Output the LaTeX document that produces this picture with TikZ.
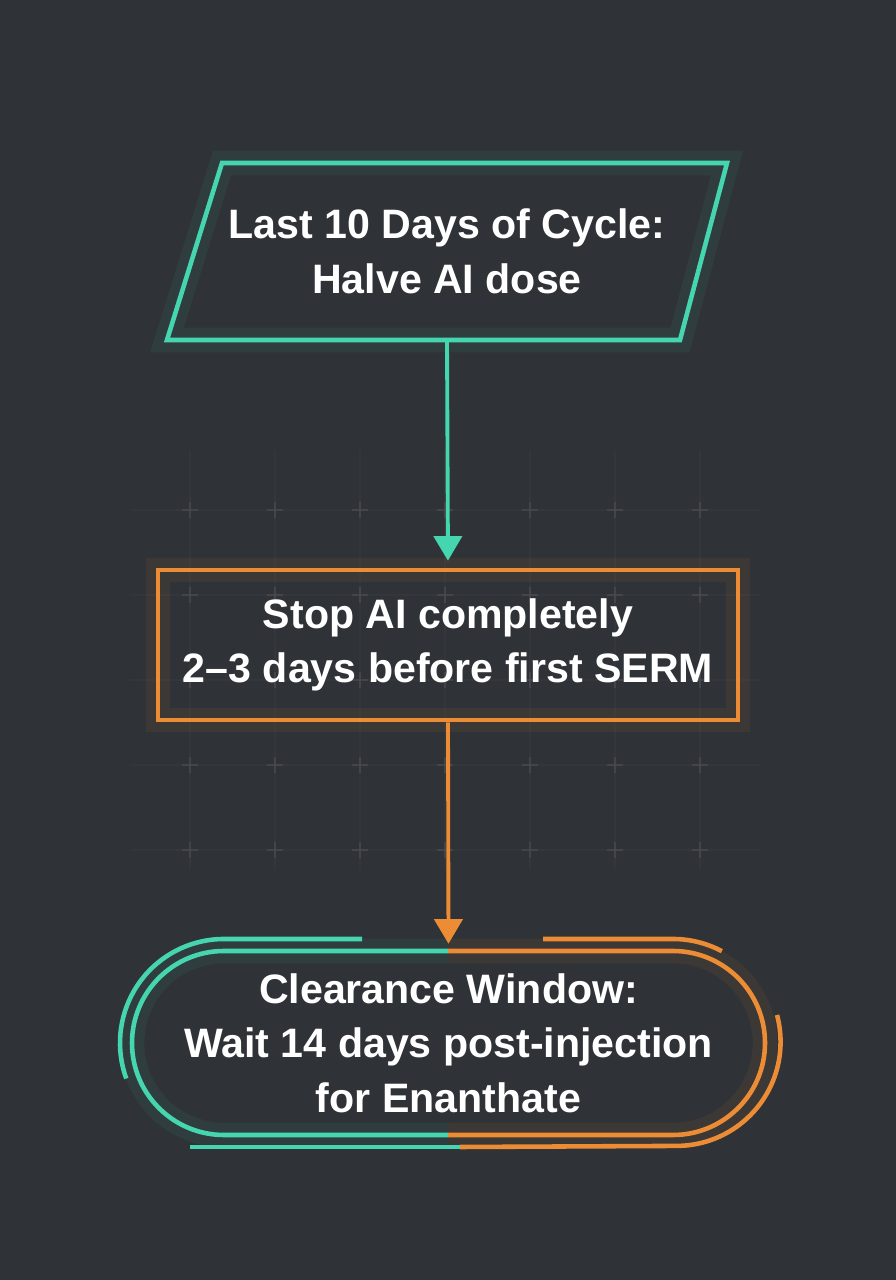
\documentclass[tikz,border=0pt]{standalone}
\usepackage{fontspec}
\setmainfont{Liberation Sans}
\usetikzlibrary{arrows.meta}
\definecolor{bgdark}{HTML}{2F3237}
\definecolor{tealc}{HTML}{45D6B0}
\definecolor{orangec}{HTML}{EC8C34}
\tikzset{
  txt/.style={text=white, font=\bfseries\fontsize{11.7}{15.5}\selectfont, align=center},
  box/.style={minimum width=#1, minimum height=1.5cm, inner sep=0pt},
  glow/.style={line width=7pt, opacity=0.07},
  edge/.style={line width=1.3pt},
  link/.style={line width=1.1pt, -{Triangle[length=7pt,width=8pt]}, shorten >=2pt},
}
\begin{document}
\begin{tikzpicture}
% background
\fill[bgdark] (0,0) rectangle (8.96,12.8);
\useasboundingbox (0,0) rectangle (8.96,12.8);

% faint grid
\foreach \x in {1.9,2.75,3.6,4.45,5.3,6.15,7.0}
  \draw[white, opacity=0.025] (\x,4.1) -- (\x,8.3);
\foreach \y in {4.3,5.15,6.0,6.85,7.7}
  \draw[white, opacity=0.025] (1.3,\y) -- (7.6,\y);
\foreach \x in {1.9,2.75,3.6,4.45,5.3,6.15,7.0}
  \foreach \y in {4.3,5.15,6.0,6.85,7.7}
    \draw[white, opacity=0.08] (\x-0.08,\y) -- (\x+0.08,\y) (\x,\y-0.08) -- (\x,\y+0.08);

% step 1: parallelogram
\draw[tealc, glow] (2.22,11.17) -- (7.27,11.17) -- (6.80,9.40) -- (1.67,9.40) -- cycle;
\draw[tealc, edge] (2.22,11.17) -- (7.27,11.17) -- (6.80,9.40) -- (1.67,9.40) -- cycle;
\node[txt, box=5cm, minimum height=1.77cm] (taper) at (4.47,10.285) {Last 10 Days of Cycle:\\Halve AI dose};

% step 2: rectangle
\draw[orangec, glow] (1.58,5.6) rectangle (7.38,7.1);
\node[txt, box=5.8cm, draw=orangec, edge] (stop) at (4.48,6.35) {Stop AI completely\\2--3 days before first SERM};

% step 3: stadium
\node[txt, box=6.33cm, minimum height=1.83cm] (wait) at (4.485,2.37) {Clearance Window:\\Wait 14 days post-injection\\for Enanthate};
\foreach \s in {glow,edge} {
  \draw[tealc, \s] (4.48,3.29) -- (2.24,3.29) arc (90:270:0.92) -- (4.48,1.45);
  \draw[orangec, \s] (4.48,3.29) -- (6.73,3.29) arc (90:-90:0.92) -- (4.48,1.45);
}
% outer broken ring
\draw[tealc, edge] (3.62,3.41) -- (2.24,3.41) arc (90:200:1.04);
\draw[orangec, edge] (5.43,3.41) -- (6.73,3.41) arc (90:62:1.04);
\draw[orangec, edge] (7.77,2.65) arc (15:-90:1.04) -- (4.6,1.33);
\draw[tealc, edge] (4.6,1.33) -- (1.9,1.33);

% connectors
\draw[tealc, link] (taper.south) -- (stop.north);
\draw[orangec, link] (stop.south) -- (wait.north);
\end{tikzpicture}
\end{document}
